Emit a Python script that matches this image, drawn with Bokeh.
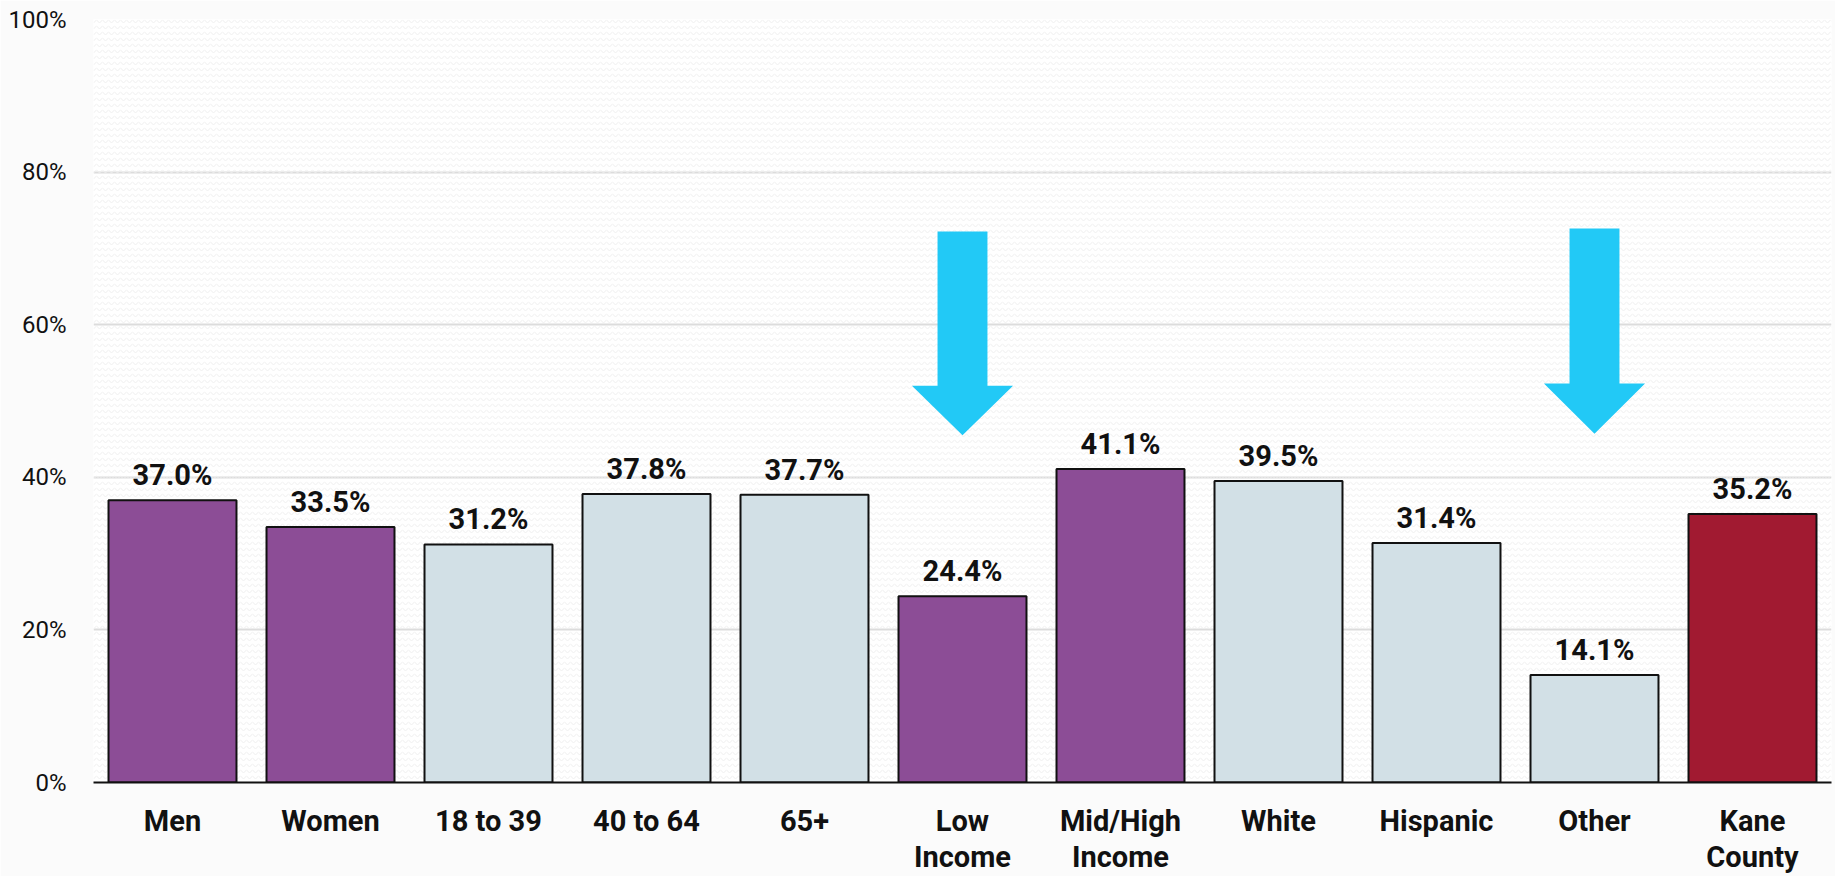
from bokeh.plotting import figure
from bokeh.models import (ColumnDataSource, Range1d, FixedTicker, PrintfTickFormatter,
                          BoxAnnotation)
from bokeh.core.properties import value
from bokeh.embed import file_html
from bokeh.resources import INLINE

# ---- data ----
categories = ["Men", "Women", "18 to 39", "40 to 64", "65+", "Low\nIncome",
              "Mid/High\nIncome", "White", "Hispanic", "Other", "Kane\nCounty"]
values = [37.0, 33.5, 31.2, 37.8, 37.7, 24.4, 41.1, 39.5, 31.4, 14.1, 35.2]
groups = ["sex", "sex", "age", "age", "age", "income", "income",
          "race", "race", "race", "total"]
y_ticks = [0, 20, 40, 60, 80, 100]

# highlighted categories (arrows): top of shaft, base of head, tip (in %)
arrow_categories = ["Low\nIncome", "Other"]
arrow_top = [72.2, 72.6]
arrow_head_base = [52.0, 52.3]
arrow_tip = [45.5, 45.7]

# ---- styles ----
group_colors = {"sex": "#8C4D96", "age": "#D2E0E6", "income": "#8C4D96",
                "race": "#D2E0E6", "total": "#A11A31"}
ARROW_COLOR = "#22C9F6"
FONT = "Roboto"
SHAFT_W = 0.316
HEAD_W = 0.64

xs = [i + 1 for i in range(len(categories))]
source = ColumnDataSource(dict(
    x=xs,
    value=values,
    color=[group_colors[g] for g in groups],
    label=[f"{v:.1f}%" for v in values],
))

W, H = 1835, 876
p = figure(width=W, height=H, output_backend="svg", toolbar_location=None,
           x_range=Range1d(0.5, len(categories) + 0.5), y_range=Range1d(0, 100),
           min_border_left=93, min_border_right=4, min_border_top=19,
           min_border_bottom=94)
p.outline_line_color = None
p.background_fill_color = "#ffffff"
p.border_fill_color = "#fbfbfb"

# faint background texture
p.add_layout(BoxAnnotation(fill_alpha=0, line_color=None, hatch_pattern="horizontal_wave",
                           hatch_color="#eeeeee", hatch_scale=6, hatch_weight=1,
                           level="underlay"))

p.vbar(x="x", top="value", width=0.81, source=source, fill_color="color",
       line_color="#111111", line_width=2)

p.text(x="x", y="value", text="label", source=source, y_offset=-25,
       text_align="center", text_baseline="alphabetic",
       text_font=value(FONT), text_font_style="bold", text_font_size="29px",
       text_color="#111111")

# arrows
axs, ays = [], []
for c, t, b, tip in zip(arrow_categories, arrow_top, arrow_head_base, arrow_tip):
    cx = categories.index(c) + 1
    axs.append([cx - SHAFT_W / 2, cx + SHAFT_W / 2, cx + SHAFT_W / 2, cx + HEAD_W / 2,
                cx, cx - HEAD_W / 2, cx - SHAFT_W / 2])
    ays.append([t, t, b, b, tip, b, b])
p.patches(axs, ays, fill_color=ARROW_COLOR, line_color=None)

# axes
p.xgrid.grid_line_color = None
p.ygrid.grid_line_color = "#dcdcdc"
p.ygrid.grid_line_width = 2
p.ygrid.ticker = FixedTicker(ticks=y_ticks)

p.yaxis.ticker = FixedTicker(ticks=y_ticks)
p.yaxis.formatter = PrintfTickFormatter(format="%d%%")
p.yaxis.axis_line_color = None
p.yaxis.major_tick_line_color = None
p.yaxis.major_tick_out = 0
p.yaxis.major_tick_in = 0
p.yaxis.minor_tick_line_color = None
p.yaxis.major_label_standoff = 27
p.yaxis.major_label_text_font = FONT
p.yaxis.major_label_text_font_size = "24px"
p.yaxis.major_label_text_color = "#111111"

p.xaxis.ticker = FixedTicker(ticks=xs)
p.xaxis.major_label_overrides = {x: c for x, c in zip(xs, categories)}
p.xaxis.axis_line_color = "#111111"
p.xaxis.axis_line_width = 2
p.xaxis.major_tick_line_color = None
p.xaxis.major_tick_out = 0
p.xaxis.major_tick_in = 0
p.xaxis.minor_tick_line_color = None
p.xaxis.major_label_standoff = 21
p.xaxis.major_label_text_font = FONT
p.xaxis.major_label_text_font_style = "bold"
p.xaxis.major_label_text_font_size = "29px"
p.xaxis.major_label_text_line_height = 1.06
p.xaxis.major_label_text_color = "#111111"

open("out.html", "w").write(file_html(p, INLINE))
